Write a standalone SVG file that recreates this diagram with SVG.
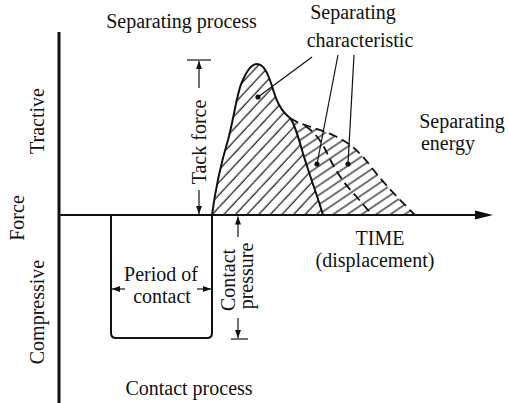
<svg xmlns="http://www.w3.org/2000/svg" width="509" height="403" viewBox="0 0 509 403">
<style>
text{font-family:"Liberation Serif","Times New Roman",serif;font-size:20px;fill:#111}
.m{text-anchor:middle}
.ln{fill:none;stroke:#111;stroke-width:2;stroke-linecap:round;stroke-linejoin:round}
.thin{fill:none;stroke:#111;stroke-width:1.2}
.dash{fill:none;stroke:#111;stroke-width:1.8;stroke-dasharray:9 5}
</style>
<defs>
<pattern id="h45" width="9" height="8.5" patternUnits="userSpaceOnUse" patternTransform="rotate(-47)">
<line x1="0" y1="4" x2="9" y2="4" stroke="#111" stroke-width="1.2"/>
</pattern>
<pattern id="h34" width="9" height="8" patternUnits="userSpaceOnUse" patternTransform="rotate(-34)">
<line x1="0" y1="4" x2="9" y2="4" stroke="#111" stroke-width="1.2"/>
</pattern>
<marker id="ah" viewBox="0 0 8 6" refX="8" refY="3" markerWidth="8" markerHeight="6" markerUnits="userSpaceOnUse" orient="auto">
<path d="M0,0 L8,3 L0,6 Z" fill="#111"/>
</marker>
</defs>

<g id="hatching">
<path d="M290,118 C300,125 318,128 335,136 C350,143 360,152 372,168 C385,185 400,200 415,215 L323,215 C318,198 312,182 306,163 C300,145 296,125 290,118 Z" fill="url(#h34)"/>
<path d="M212,215 C216,185 222,160 228,140 C234,118 237,92 242,82 C247,70 252,64 257,64 C264,64 268,74 272,86 C276,100 280,110 290,118 C296,125 300,145 306,163 C312,182 318,198 323,215 Z" fill="url(#h45)"/>
</g>

<g id="axes">
<line x1="59" y1="32" x2="59" y2="403" stroke="#111" stroke-width="3"/>
<line x1="59" y1="215" x2="478" y2="215" stroke="#111" stroke-width="2"/>
<path d="M475,210.5 L493,215 L475,219.5 Z" fill="#111"/>
</g>

<g id="curves">
<path class="ln" d="M212,215 C216,185 222,160 228,140 C234,118 237,92 242,82 C247,70 252,64 257,64 C264,64 268,74 272,86 C276,100 280,110 290,118 C296,125 300,145 306,163 C312,182 318,198 323,215"/>
<path class="dash" d="M290,118 C300,125 318,128 335,136 C350,143 360,152 372,168 C385,185 400,200 415,215"/>
<path class="dash" d="M305,126 C315,132 322,142 328,155 C335,170 345,185 355,195 C362,203 368,210 372,215"/>
</g>

<g id="contact-box">
<path class="ln" d="M111,215 V333 Q111,338 116,338 H207 Q212,338 212,333 V215"/>
</g>

<g id="connectors">
<line class="thin" x1="187" y1="60" x2="211" y2="60"/>
<line class="thin" x1="199" y1="88" x2="199" y2="61" marker-end="url(#ah)"/>
<line class="thin" x1="199" y1="190" x2="199" y2="214" marker-end="url(#ah)"/>
<line class="thin" x1="238" y1="237" x2="238" y2="216.5" marker-end="url(#ah)"/>
<line class="thin" x1="238" y1="318" x2="238" y2="338" marker-end="url(#ah)"/>
<line class="thin" x1="231" y1="339" x2="248" y2="339"/>
<line class="thin" x1="125" y1="289" x2="112" y2="289" marker-end="url(#ah)"/>
<line class="thin" x1="197" y1="289" x2="211" y2="289" marker-end="url(#ah)"/>
<line class="thin" x1="258" y1="97" x2="312" y2="57"/>
<line class="thin" x1="317" y1="164" x2="338" y2="55"/>
<line class="thin" x1="348" y1="164" x2="354" y2="55"/>
<circle cx="258" cy="97" r="2.6" fill="#111"/>
<circle cx="317" cy="164" r="2.6" fill="#111"/>
<circle cx="348" cy="164" r="2.6" fill="#111"/>
</g>

<g id="labels">
<text class="m" x="181.5" y="28">Separating process</text>
<text class="m" x="353" y="19">Separating</text>
<text class="m" x="360" y="47">characteristic</text>
<text class="m" x="462" y="128">Separating</text>
<text class="m" x="448" y="150">energy</text>
<text class="m" x="380" y="245">TIME</text>
<text class="m" x="375" y="267">(displacement)</text>
<text class="m" x="161" y="281">Period of</text>
<text class="m" x="162" y="303">contact</text>
<text class="m" x="189" y="395">Contact process</text>
<text class="m" transform="translate(205.5,142) rotate(-90)">Tack force</text>
<text class="m" transform="translate(235,280) rotate(-90)">Contact</text>
<text class="m" transform="translate(253,276) rotate(-90)">pressure</text>
<text class="m" transform="translate(44,121) rotate(-90)">Tractive</text>
<text class="m" transform="translate(24,218) rotate(-90)">Force</text>
<text class="m" transform="translate(44,312) rotate(-90)">Compressive</text>
</g>
</svg>
